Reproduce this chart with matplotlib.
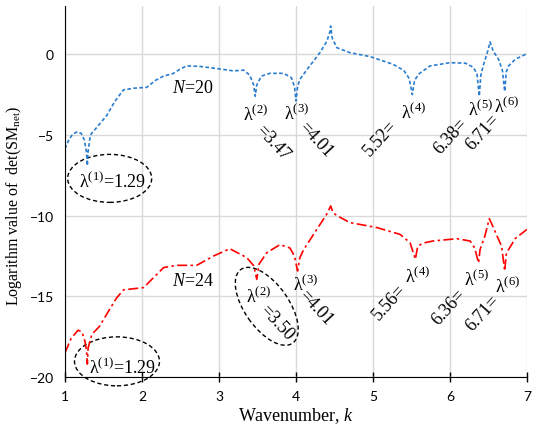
import matplotlib
matplotlib.use('Agg')
import matplotlib.pyplot as plt
from matplotlib.patches import Ellipse
from matplotlib.transforms import ScaledTranslation

plt.rcParams['mathtext.fontset'] = 'custom'
plt.rcParams['mathtext.rm'] = 'Liberation Serif'
plt.rcParams['mathtext.it'] = 'Liberation Serif:italic'

# N=20 curve (blue)
k20 = [1.00, 1.05, 1.10, 1.16, 1.21, 1.25, 1.28, 1.29, 1.30, 1.33, 1.40, 1.54, 1.65, 1.76, 1.90,
       2.06, 2.18, 2.28, 2.40, 2.50, 2.58, 2.75, 3.00, 3.19, 3.32, 3.40, 3.45, 3.47, 3.49,
       3.55, 3.66, 3.84, 3.94, 3.98, 4.00, 4.02, 4.05, 4.15, 4.31, 4.40, 4.44, 4.45, 4.47,
       4.53, 4.70, 4.96, 5.26, 5.40, 5.47, 5.51, 5.54, 5.60, 5.74, 6.00, 6.20, 6.30, 6.35,
       6.38, 6.40, 6.43, 6.49, 6.52, 6.56, 6.63, 6.68, 6.71, 6.73, 6.76, 6.85, 7.00]
v20 = [-5.85, -5.3, -4.95, -4.8, -4.9, -5.3, -6.1, -6.9, -6.0, -5.0, -4.6, -3.8, -2.9, -2.2, -2.1,
       -2.05, -1.6, -1.35, -1.2, -0.9, -0.72, -0.75, -0.9, -1.03, -0.98, -1.3, -1.9, -2.6, -1.9,
       -1.35, -1.18, -1.18, -1.45, -2.0, -2.9, -2.0, -1.55, -0.9, 0.1, 0.8, 1.4, 1.75, 1.0,
       0.41, 0.1, -0.14, -0.62, -1.0, -1.5, -2.5, -1.6, -1.2, -0.72, -0.52, -0.55, -0.8, -1.2,
       -2.6, -1.3, -0.72, 0.2, 0.77, 0.2, -0.31, -1.0, -2.3, -1.1, -0.72, -0.3, 0.04]

# N=24 curve (red)
k24 = [1.00, 1.08, 1.17, 1.22, 1.26, 1.28, 1.29, 1.30, 1.35, 1.45, 1.58, 1.67, 1.76, 2.02,
       2.15, 2.28, 2.45, 2.71, 2.93, 3.14, 3.36, 3.45, 3.49, 3.52, 3.62, 3.79, 3.92, 3.98,
       4.02, 4.05, 4.10, 4.27, 4.40, 4.45, 4.48, 4.53, 4.70, 5.05, 5.35, 5.48, 5.55, 5.58,
       5.65, 5.78, 6.09, 6.26, 6.32, 6.37, 6.39, 6.45, 6.51, 6.55, 6.61, 6.67, 6.71, 6.73,
       6.76, 6.85, 7.00]
v24 = [-18.5, -17.6, -17.1, -17.2, -17.8, -18.4, -19.2, -18.2, -17.35, -16.85, -15.8, -15.1, -14.6, -14.46,
       -13.84, -13.22, -13.08, -13.08, -12.5, -12.05, -12.6, -13.1, -13.95, -13.0, -12.3, -11.8, -12.0, -12.5,
       -13.43, -12.6, -12.1, -10.85, -9.9, -9.4, -9.8, -10.0, -10.43, -10.74, -11.16, -11.67, -12.7, -11.9,
       -11.7, -11.57, -11.43, -11.57, -12.0, -12.93, -12.1, -11.3, -10.19, -10.6, -11.26, -11.9, -13.43, -12.4,
       -12.1, -11.4, -10.85]

xticks = [1, 2, 3, 4, 5, 6, 7]
yticks = [-20, -15, -10, -5, 0]

fig = plt.figure(figsize=(5.4, 4.31), dpi=100)
ax = fig.add_axes([0.1204, 0.123, 0.976 - 0.1204, 0.984 - 0.123])

ax.plot(k20, v20, color='#2a7dcf', lw=1.2, dashes=(2.2, 1.4))
ax.plot(k24, v24, color='#ff0000', lw=1.2, dashes=(6, 2, 1.5, 2))

ax.set_xlim(1, 7)
ax.set_ylim(-20, 3)
ax.set_xticks(xticks)
ax.set_yticks(yticks)
ax.grid(True, color='#d9d9d9', lw=1)
ax.set_axisbelow(True)
for s in ['top', 'right']:
    ax.spines[s].set_visible(False)
ax.spines['left'].set_color('black')
ax.spines['bottom'].set_color('black')
ax.tick_params(axis='x', direction='inout', length=7, width=1, labelsize=10, pad=6)
ax.tick_params(axis='y', length=0, labelsize=10, pad=8)
for lab in ax.get_xticklabels() + ax.get_yticklabels():
    lab.set_fontfamily('Lato')

ax.set_xlabel('Wavenumber, $\\it{k}$', fontfamily='Liberation Serif', fontsize=13, labelpad=2)
ax.set_ylabel('Logarithm value of  det(SM$_{\\rm net}$)', fontfamily='Liberation Serif',
              fontsize=11.5)
ax.yaxis.set_label_coords(-0.088, 0.465)

tf = dict(fontfamily='Liberation Serif', fontsize=13, ha='center', va='center')

# blue annotations
ax.text(2.66, -2.05, '$\\it{N}$=20', **tf)
ax.text(1.61, -7.87, 'λ$^{(1)}$=1.29', **tf)
ax.text(3.47, -3.72, 'λ$^{(2)}$', **tf)
ax.text(3.69, -5.46, '=3.47', rotation=-47, **tf)
ax.text(4.01, -3.66, 'λ$^{(3)}$', **tf)
ax.text(4.25, -5.27, '=4.01', rotation=-47, **tf)
ax.text(5.52, -3.60, 'λ$^{(4)}$', **tf)
ax.text(5.09, -5.15, '5.52=', rotation=48, **tf)
ax.text(6.39, -3.41, 'λ$^{(5)}$', **tf)
ax.text(6.01, -5.02, '6.38=', rotation=48, **tf)
ax.text(6.74, -3.22, 'λ$^{(6)}$', **tf)
ax.text(6.42, -4.77, '6.71=', rotation=48, **tf)

# red annotations
ax.text(2.66, -14.01, '$\\it{N}$=24', **tf)
ax.text(1.74, -19.4, 'λ$^{(1)}$=1.29', **tf)
ax.text(3.51, -15.0, 'λ$^{(2)}$', **tf)
ax.text(3.75, -16.6, '=3.50', rotation=-47, **tf)
ax.text(4.12, -14.26, 'λ$^{(3)}$', **tf)
ax.text(4.25, -15.69, '=4.01', rotation=-47, **tf)
ax.text(5.58, -13.76, 'λ$^{(4)}$', **tf)
ax.text(5.21, -15.31, '5.56=', rotation=48, **tf)
ax.text(6.35, -13.95, 'λ$^{(5)}$', **tf)
ax.text(5.99, -15.62, '6.36=', rotation=48, **tf)
ax.text(6.75, -14.38, 'λ$^{(6)}$', **tf)
ax.text(6.43, -16.0, '6.71=', rotation=48, **tf)

# dashed ellipses (size in pixels/100 -> inches, centred on data points)
def ring(cx, cy, w, h, ang=0):
    tr = fig.dpi_scale_trans + ScaledTranslation(cx, cy, ax.transData)
    e = Ellipse((0, 0), w / 100, h / 100, angle=ang, fill=False, ec='black',
                lw=1, ls=(0, (3, 2)), transform=tr, clip_on=False)
    ax.add_patch(e)

ring(1.58, -7.69, 84, 48)
ring(1.675, -19.03, 85, 49)
ring(3.62, -15.62, 90, 44, -55)

fig.savefig('out.png', dpi=100)
